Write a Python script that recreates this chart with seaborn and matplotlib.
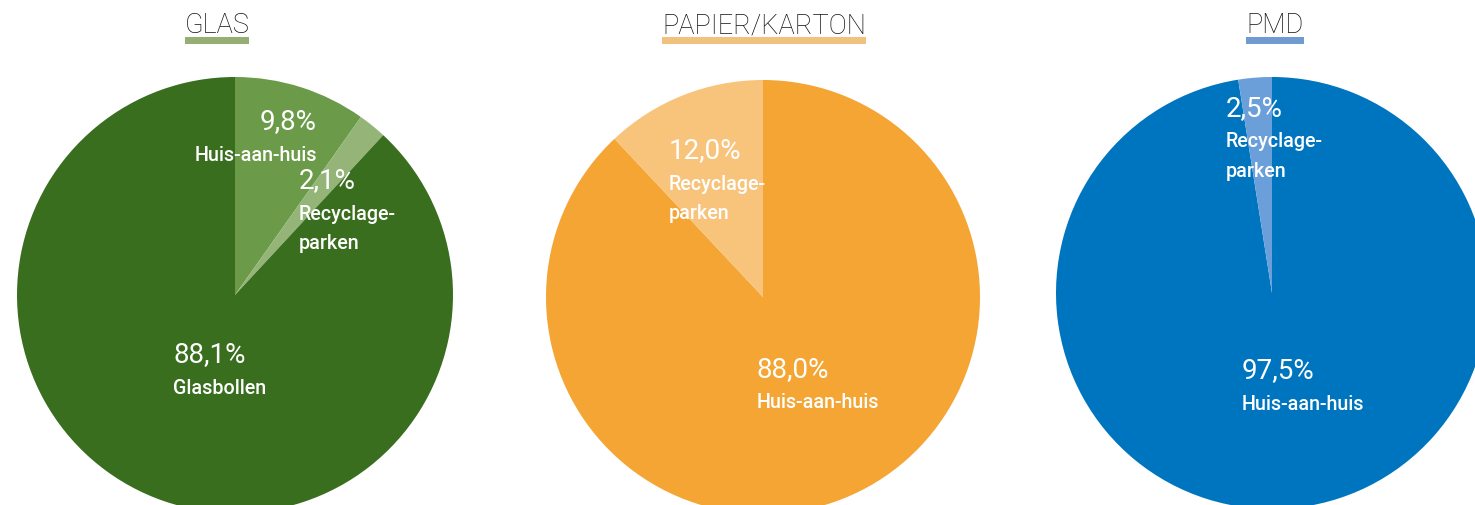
import matplotlib
matplotlib.use("Agg")
import matplotlib.pyplot as plt
import seaborn as sns
from matplotlib.patches import Rectangle
from matplotlib.transforms import offset_copy

# ── Data
titles        = ["GLAS", "PAPIER/KARTON", "PMD"]
glas_values   = [9.8, 2.1, 88.1]
glas_names    = ["Huis-aan-huis", "Recyclage-\nparken", "Glasbollen"]
papier_values = [88.0, 12.0]
papier_names  = ["Huis-aan-huis", "Recyclage-\nparken"]
pmd_values    = [97.5, 2.5]
pmd_names     = ["Huis-aan-huis", "Recyclage-\nparken"]

# ── Layout / style (pixels on a 1475x505 canvas)
W, H = 1475, 505
PIES = [
    dict(values=glas_values, names=glas_names, center=(235, 295), r=218,
         colors=["#6b9a49", "#94b577", "#396e1f"], title_x=217, bar="#94ae74",
         labels=[(0.376, 0.794, "right"), (0.294, 0.523, "left"), (-0.284, -0.275, "left")]),
    dict(values=papier_values, names=papier_names, center=(763, 297), r=217,
         colors=["#f4a534", "#f8c47b"], title_x=764, bar="#f1c27f",
         labels=[(-0.028, -0.332, "left"), (-0.433, 0.673, "left")]),
    dict(values=pmd_values, names=pmd_names, center=(1272, 293), r=216,
         colors=["#0075bf", "#6b9fd9"], title_x=1275, bar="#6f9bd0",
         labels=[(-0.139, -0.361, "left"), (-0.213, 0.856, "left")]),
]

sns.set_theme(style="white")
plt.rcParams["font.family"] = ["Roboto", "DejaVu Sans"]

fig = plt.figure(figsize=(W / 100, H / 100), dpi=100)
fig.patch.set_facecolor("white")


def fmt_pct(v):
    return f"{v:.1f}".replace(".", ",") + "%"


for title, p in zip(titles, PIES):
    cx, cy = p["center"]
    r = p["r"]
    ax = fig.add_axes([(cx - r) / W, (H - cy - r) / H, 2 * r / W, 2 * r / H])
    ax.pie(p["values"], colors=p["colors"], startangle=90, counterclock=False,
           radius=1, wedgeprops=dict(linewidth=0))
    ax.set_xlim(-1, 1)
    ax.set_ylim(-1, 1)
    ax.set_aspect("equal")
    ax.axis("off")

    for v, name, (lx, ly, ha) in zip(p["values"], p["names"], p["labels"]):
        ax.text(lx, ly, fmt_pct(v), color="white", fontsize=20, ha=ha,
                va="center", fontweight="normal")
        name_tr = offset_copy(ax.transData, fig=fig, x=0, y=-24, units="dots")
        ax.text(lx, ly, name, color="white", fontsize=14.2, ha=ha, va="top",
                fontweight="medium", linespacing=1.7, transform=name_tr)

    # title with coloured underline
    t = fig.text(p["title_x"] / W, 1 - 33 / H, title, ha="center", va="baseline",
                 fontsize=19.5, fontweight="light", color="#111111")
    renderer = fig.canvas.get_renderer()
    bb = t.get_window_extent(renderer)
    fig.patches.append(Rectangle((bb.x0 / W, 1 - 44 / H), bb.width / W, 7 / H,
                                 transform=fig.transFigure, color=p["bar"],
                                 linewidth=0, zorder=0))

plt.savefig("out.png", dpi=100, facecolor="white")
